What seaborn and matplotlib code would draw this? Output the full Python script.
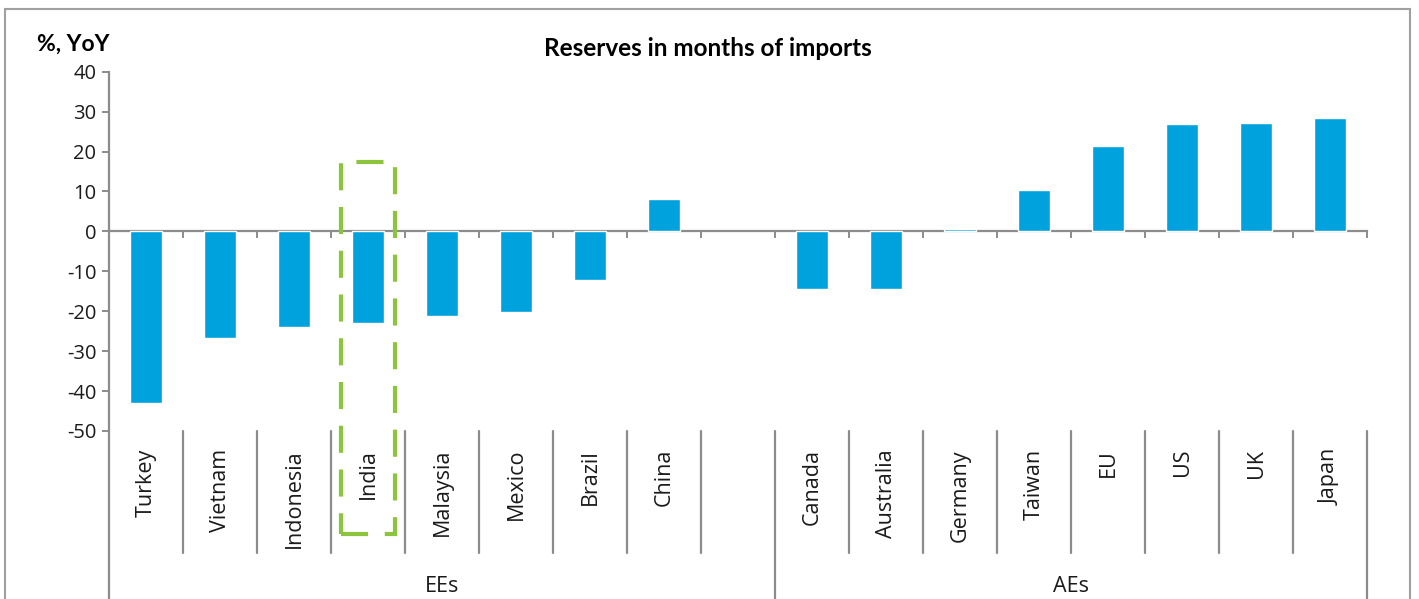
import matplotlib
matplotlib.use("Agg")
import matplotlib.pyplot as plt
import matplotlib.patches as mpatches
from matplotlib.lines import Line2D
import seaborn as sns
import pandas as pd
import numpy as np

# Reserves in months of imports, % YoY
ee_countries = ["Turkey", "Vietnam", "Indonesia", "India", "Malaysia", "Mexico", "Brazil", "China"]
ee_values = [-43.0, -26.8, -24.0, -23.0, -21.1, -20.2, -12.3, 8.1]
ae_countries = ["Canada", "Australia", "Germany", "Taiwan", "EU", "US", "UK", "Japan"]
ae_values = [-14.4, -14.4, 0.6, 10.4, 21.4, 26.8, 27.1, 28.4]
groups = ["EEs", "AEs"]
highlight = "India"
yticks = [40, 30, 20, 10, 0, -10, -20, -30, -40, -50]

# one empty slot separates the two groups
categories = ee_countries + [" "] + ae_countries
values = ee_values + [np.nan] + ae_values
df = pd.DataFrame({"country": categories, "value": values})

sns.set_theme(style="white")
plt.rcParams["font.family"] = ["Open Sans", "DejaVu Sans"]

W, H = 1419, 599
fig = plt.figure(figsize=(W / 100, H / 100), dpi=100)
ax_left, ax_right, ax_top, ax_bot = 109, 1367, 71.7, 431
ax = fig.add_axes([ax_left / W, 1 - ax_bot / H, (ax_right - ax_left) / W, (ax_bot - ax_top) / H])

bar_color = "#00A2DE"
grey = "#8C8C8C"
green = "#8DC43E"
text_color = "#1a1a1a"

sns.barplot(data=df, x="country", y="value", order=categories, color=bar_color,
            width=0.42, saturation=1, ax=ax, errorbar=None, zorder=3)

n = len(categories)
ax.set_xlim(-0.5, n - 0.5)
ax.set_ylim(-50, 40)
ax.set_xlabel("")
ax.set_ylabel("")

# axes styling
for s in ["top", "right"]:
    ax.spines[s].set_visible(False)
ax.spines["left"].set_color(grey)
ax.spines["left"].set_linewidth(1.6)
ax.spines["bottom"].set_position(("data", 0))
ax.spines["bottom"].set_color(grey)
ax.spines["bottom"].set_linewidth(1.6)
ax.spines["bottom"].set_zorder(2)

ax.set_yticks(yticks)
ax.set_yticklabels([str(t) for t in yticks], fontsize=14.5, color=text_color)
ax.tick_params(axis="y", direction="out", length=5, width=1.4, color=grey, left=True, pad=4)

bounds = np.arange(n + 1) - 0.5
ax.set_xticks(bounds)
ax.set_xticklabels([""] * len(bounds))
ax.tick_params(axis="x", direction="out", length=5, width=1.4, color=grey, bottom=True)

# category labels under the plot area
px = 1.0 / (ax_bot - ax_top)  # axes fraction per pixel
for i, c in enumerate(categories):
    if c.strip():
        ax.text(i, -18 * px, c, transform=ax.get_xaxis_transform(), rotation=90,
                ha="center", va="top", fontsize=15.5, color=text_color)

# separators between category labels
sep_bottom = -(553 - ax_bot) * px
fig_bottom = -(H - ax_bot + 5) * px
group_edges = [-0.5, len(ee_countries) + 0.5, n - 0.5]
for b in bounds:
    y1 = fig_bottom if any(abs(b - g) < 1e-6 for g in group_edges) else sep_bottom
    ax.add_line(Line2D([b, b], [0, y1], transform=ax.get_xaxis_transform(),
                       color=grey, lw=1.6, clip_on=False))

# group labels
ee_center = (0 + len(ee_countries)) / 2
ae_center = (len(ee_countries) + 1 + n - 1) / 2
for label, xc in zip(groups, [ee_center, ae_center]):
    ax.text(xc, -(587 - ax_bot) * px, label, transform=ax.get_xaxis_transform(),
            ha="center", va="center", fontsize=15.5, color=text_color)

# dashed box around the highlighted country
hi = categories.index(highlight)
unit_per_px = 90 / (ax_bot - ax_top)
box_top = 17.3
box_bottom = -50 - (534 - ax_bot) * unit_per_px
box = mpatches.Rectangle((hi - 0.37, box_bottom), 0.74, box_top - box_bottom,
                         fill=False, edgecolor=green, lw=3.0, linestyle=(0, (6.5, 4.0)),
                         clip_on=False, zorder=5)
ax.add_patch(box)

# title and unit
fig.text(708 / W, 1 - 48 / H, "Reserves in months of imports", ha="center", va="center",
         fontsize=17.5, fontweight="bold", family=["Lato", "DejaVu Sans"], color="#000000")
fig.text(37 / W, 1 - 44 / H, "%, YoY", ha="left", va="center",
         fontsize=16.5, fontweight="bold", family=["Lato", "DejaVu Sans"], color="#000000")

# outer frame
frame = mpatches.Rectangle((5 / W, -0.05), (1410 - 5) / W, 1 - 9 / H + 0.05,
                           transform=fig.transFigure, fill=False, edgecolor="#A0A0A0",
                           lw=1.5, clip_on=False)
fig.patches.append(frame)

fig.savefig("out.png", dpi=100)
